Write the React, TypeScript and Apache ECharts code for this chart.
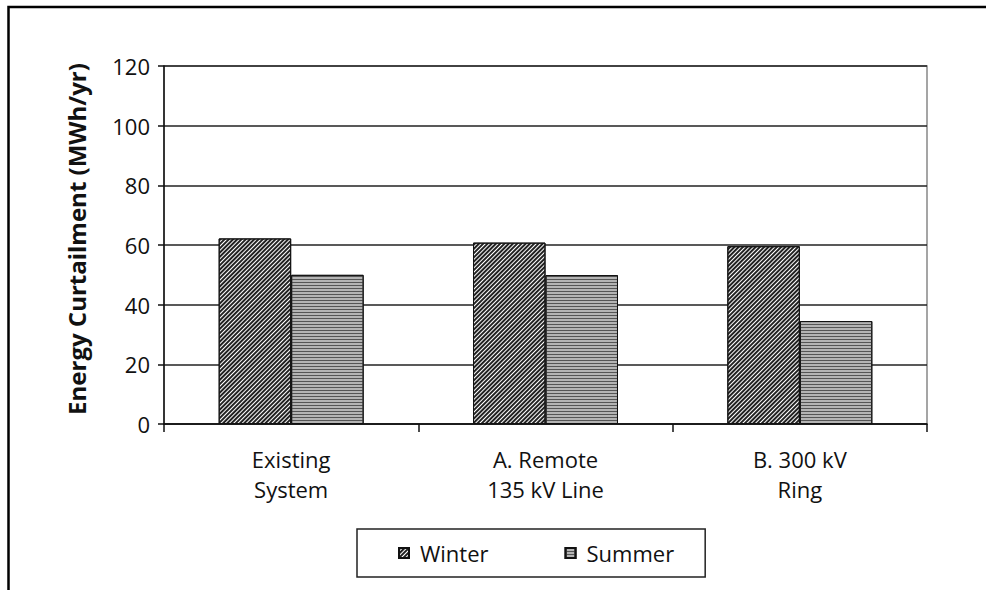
import React, { useEffect, useRef } from "react";
import * as echarts from "echarts";

const categories = ["Existing\nSystem", "A. Remote\n135 kV Line", "B. 300 kV\nRing"];
const seriesNames = ["Winter", "Summer"];
const winterValues = [62.2, 60.8, 59.6];
const summerValues = [50, 49.9, 34.5];
const yMin = 0;
const yMax = 120;
const yInterval = 20;

const FONT = "'Open Sans', 'Noto Sans', sans-serif";

export default function App() {
  const ref = useRef<HTMLDivElement>(null);
  useEffect(() => {
    if (!ref.current) return;
    const chart = echarts.init(ref.current, null, { renderer: "svg" });
    chart.setOption({
      animation: false,
      backgroundColor: "#ffffff",
      textStyle: { fontFamily: FONT },
      grid: { left: 164, right: 59, top: 66, bottom: 166, show: true, borderColor: "#888", borderWidth: 1.5, backgroundColor: "transparent" },
      legend: {
        data: seriesNames,
        left: 357,
        top: 529,
        padding: [13, 31, 13, 41],
        itemGap: 76,
        itemWidth: 10,
        itemHeight: 10,
        icon: "rect",
        borderColor: "#222",
        borderWidth: 1.5,
        textStyle: { fontSize: 22, color: "#111", fontFamily: FONT, padding: [0, 0, 0, 6] },
      },
      xAxis: {
        type: "category",
        data: categories,
        axisLine: { show: true, lineStyle: { color: "#111", width: 1.5 } },
        axisTick: { show: true, length: 8, lineStyle: { color: "#111", width: 1.5 } },
        axisLabel: { fontSize: 22, lineHeight: 30, color: "#111", margin: 20, fontFamily: FONT },
        splitLine: { show: false },
      },
      yAxis: {
        type: "value",
        min: yMin,
        max: yMax,
        interval: yInterval,
        name: "Energy Curtailment (MWh/yr)",
        nameLocation: "middle",
        nameRotate: 90,
        nameGap: 76,
        nameTextStyle: { fontSize: 24, fontWeight: "bold", color: "#111", fontFamily: FONT, padding: [0, 0, 0, 12] },
        axisLine: { show: true, lineStyle: { color: "#111", width: 1.5 } },
        axisTick: { show: true, length: 6, lineStyle: { color: "#111", width: 1.5 } },
        axisLabel: { fontSize: 22, color: "#111", margin: 14, fontFamily: FONT },
        splitLine: { show: true, lineStyle: { color: "#222", width: 1.5 } },
      },
      series: [
        {
          name: seriesNames[0],
          type: "bar",
          data: winterValues,
          barGap: "0%",
          barCategoryGap: "43%",
          itemStyle: {
            color: "#ffffff",
            borderColor: "#111",
            borderWidth: 1,
            decal: {
              symbol: "rect",
              symbolSize: 1,
              color: "#222",
              dashArrayX: [1, 0],
              dashArrayY: [1.5, 1],
              rotation: -Math.PI / 4,
            },
          },
        },
        {
          name: seriesNames[1],
          type: "bar",
          data: summerValues,
          barGap: "0%",
          barCategoryGap: "43%",
          itemStyle: {
            color: "#b4b4b4",
            borderColor: "#111",
            borderWidth: 1,
            decal: {
              symbol: "rect",
              symbolSize: 1,
              color: "#555",
              dashArrayX: [1, 0],
              dashArrayY: [1, 2],
              rotation: 0,
            },
          },
        },
      ],
      graphic: [
        {
          type: "rect",
          silent: true,
          shape: { x: 8.5, y: 7, width: 1000, height: 600 },
          style: { fill: "none", stroke: "#000", lineWidth: 2.5 },
        },
      ],
    });
    return () => chart.dispose();
  }, []);
  return (
    <div
      ref={ref}
      style={{ position: "fixed", left: 0, top: 0, width: 986, height: 590, background: "#fff" }}
    />
  );
}
